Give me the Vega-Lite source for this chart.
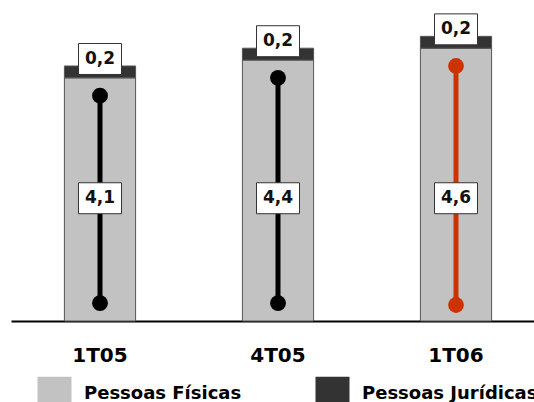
{
  "$schema": "https://vega.github.io/schema/vega-lite/v6.json",
  "width": 523,
  "height": 320,
  "autosize": {"type": "none"},
  "padding": {"left": 11, "top": 1, "right": 0, "bottom": 81},
  "background": "white",
  "config": {
    "view": {"stroke": null},
    "font": "DejaVu Sans",
    "axisX": {
      "title": null, "labelAngle": 0, "ticks": false, "grid": false,
      "domainColor": "black", "domainWidth": 2,
      "labelFont": "DejaVu Sans", "labelFontWeight": "bold", "labelFontSize": 20,
      "labelPadding": 24, "labelColor": "black"
    },
    "legend": {
      "orient": "none", "legendX": 26, "legendY": 375, "direction": "horizontal",
      "title": null, "padding": 0, "symbolType": "square", "symbolSize": 1156,
      "symbolStrokeColor": "#333333", "symbolStrokeWidth": 1,
      "labelFont": "DejaVu Sans", "labelFontWeight": "bold", "labelFontSize": 18,
      "labelColor": "black", "labelOffset": 12, "columnPadding": 71,
      "labelBaseline": "middle", "labelLimit": 300
    }
  },
  "datasets": {
    "periodos": [
      {"periodo": "1T05", "Pessoas Físicas": 4.1, "Pessoas Jurídicas": 0.2, "total": 4.3, "haste_base": 0.3, "haste_topo": 3.8, "pf_rotulo": "4,1", "pj_rotulo": "0,2"},
      {"periodo": "4T05", "Pessoas Físicas": 4.4, "Pessoas Jurídicas": 0.2, "total": 4.6, "haste_base": 0.3, "haste_topo": 4.1, "pf_rotulo": "4,4", "pj_rotulo": "0,2"},
      {"periodo": "1T06", "Pessoas Físicas": 4.6, "Pessoas Jurídicas": 0.2, "total": 4.8, "haste_base": 0.27, "haste_topo": 4.3, "pf_rotulo": "4,6", "pj_rotulo": "0,2"}
    ]
  },
  "data": {"name": "periodos"},
  "encoding": {
    "x": {
      "field": "periodo", "type": "nominal", "sort": null,
      "scale": {"range": [0, 534], "paddingInner": 0.6, "paddingOuter": 0.3}
    }
  },
  "layer": [
    {
      "transform": [{"fold": ["Pessoas Físicas", "Pessoas Jurídicas"], "as": ["tipo", "valor"]}],
      "mark": {"type": "bar", "stroke": "#555555", "strokeWidth": 1},
      "encoding": {
        "y": {"field": "valor", "type": "quantitative", "stack": "zero", "axis": null,
              "scale": {"domain": [0, 5.396], "nice": false, "zero": true}},
        "color": {"field": "tipo", "type": "nominal",
                  "scale": {"domain": ["Pessoas Físicas", "Pessoas Jurídicas"], "range": ["#c2c2c2", "#333333"]},
                  "legend": {"encode": {"symbols": {"update": {"fill": {"signal": "datum.value === 'Pessoas Físicas' ? '#d8d8d8' : '#333333'"}}}}}},
        "order": {"field": "tipo", "sort": "ascending"}
      }
    },
    {
      "mark": {"type": "rule", "strokeWidth": 5},
      "encoding": {
        "y": {"field": "haste_base", "type": "quantitative"},
        "y2": {"field": "haste_topo"},
        "color": {"condition": {"test": "datum.periodo === '1T06'", "value": "#cc3300"}, "value": "black"}
      }
    },
    {
      "mark": {"type": "point", "filled": true, "opacity": 1, "size": 250},
      "encoding": {
        "y": {"field": "haste_base", "type": "quantitative"},
        "color": {"condition": {"test": "datum.periodo === '1T06'", "value": "#cc3300"}, "value": "black"}
      }
    },
    {
      "mark": {"type": "point", "filled": true, "opacity": 1, "size": 250},
      "encoding": {
        "y": {"field": "haste_topo", "type": "quantitative"},
        "color": {"condition": {"test": "datum.periodo === '1T06'", "value": "#cc3300"}, "value": "black"}
      }
    },
    {
      "mark": {"type": "point", "shape": "M-1,-0.72H1V0.72H-1Z", "size": 1849, "filled": true, "fill": "white", "stroke": "#333333", "strokeWidth": 1, "opacity": 1, "yOffset": -7},
      "encoding": {"y": {"field": "total", "type": "quantitative"}}
    },
    {
      "mark": {"type": "text", "font": "DejaVu Sans", "fontWeight": "bold", "fontSize": 17, "color": "#111111", "baseline": "middle", "yOffset": -7},
      "encoding": {"y": {"field": "total", "type": "quantitative"}, "text": {"field": "pj_rotulo"}}
    },
    {
      "mark": {"type": "point", "shape": "M-1,-0.72H1V0.72H-1Z", "size": 1849, "filled": true, "fill": "white", "stroke": "#333333", "strokeWidth": 1, "opacity": 1},
      "encoding": {"y": {"datum": 2.07, "type": "quantitative"}}
    },
    {
      "mark": {"type": "text", "font": "DejaVu Sans", "fontWeight": "bold", "fontSize": 17, "color": "#111111", "baseline": "middle"},
      "encoding": {"y": {"datum": 2.07, "type": "quantitative"}, "text": {"field": "pf_rotulo"}}
    }
  ]
}
